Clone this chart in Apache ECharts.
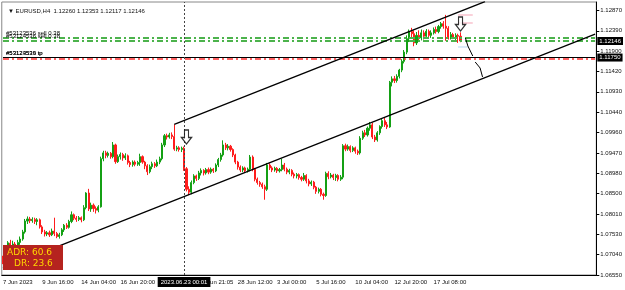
<!DOCTYPE html>
<html><head><meta charset="utf-8">
<script src="https://cdn.jsdelivr.net/npm/echarts@6/dist/echarts.min.js"></script>
<style>html,body{margin:0;padding:0;background:#fff}#c{width:625px;height:290px}</style>
</head><body><div id="c"></div>
<script>
const symbolName = 'EURUSD,H4';
// [open, close, low, high] per H4 candle
const candles = [
[1.0693,1.0686,1.0681,1.0701],[1.0686,1.0691,1.0676,1.0697],[1.0688,1.0732,1.0671,1.0736],[1.0731,1.0724,1.0717,1.0739],
[1.0724,1.0729,1.0719,1.0737],[1.0729,1.0725,1.0717,1.0734],[1.0725,1.0733,1.0721,1.0739],[1.0733,1.0741,1.0727,1.0747],
[1.0741,1.0758,1.0737,1.0763],[1.0758,1.0784,1.0754,1.0789],[1.0784,1.0789,1.0777,1.0795],[1.0789,1.0785,1.0779,1.0794],
[1.0785,1.0788,1.0780,1.0793],[1.0788,1.0783,1.0777,1.0792],[1.0783,1.0787,1.0774,1.0791],[1.0787,1.0770,1.0766,1.0790],
[1.0770,1.0758,1.0753,1.0774],[1.0758,1.0753,1.0747,1.0763],[1.0753,1.0756,1.0748,1.0760],[1.0756,1.0751,1.0746,1.0761],
[1.0751,1.0760,1.0748,1.0766],[1.0760,1.0754,1.0748,1.0792],[1.0754,1.0747,1.0743,1.0758],[1.0747,1.0751,1.0742,1.0756],
[1.0751,1.0763,1.0748,1.0767],[1.0763,1.0774,1.0758,1.0777],[1.0774,1.0769,1.0765,1.0779],[1.0769,1.0783,1.0766,1.0787],
[1.0783,1.0799,1.0779,1.0807],[1.0799,1.0791,1.0786,1.0802],[1.0791,1.0788,1.0782,1.0796],[1.0788,1.0792,1.0784,1.0796],
[1.0792,1.0787,1.0781,1.0795],[1.0787,1.0816,1.0784,1.0822],[1.0816,1.0851,1.0812,1.0853],[1.0851,1.0813,1.0808,1.0861],
[1.0813,1.0822,1.0806,1.0828],[1.0822,1.0814,1.0806,1.0826],[1.0814,1.0810,1.0802,1.0819],[1.0810,1.0818,1.0805,1.0822],
[1.0818,1.0933,1.0816,1.0938],[1.0933,1.0947,1.0927,1.0952],[1.0947,1.0941,1.0934,1.0952],[1.0941,1.0946,1.0936,1.0950],
[1.0946,1.0938,1.0933,1.0949],[1.0938,1.0966,1.0934,1.0973],[1.0966,1.0926,1.0921,1.0969],[1.0926,1.0938,1.0923,1.0943],
[1.0938,1.0943,1.0931,1.0948],[1.0943,1.0935,1.0928,1.0947],[1.0935,1.0940,1.0930,1.0946],[1.0940,1.0924,1.0919,1.0943],
[1.0924,1.0919,1.0913,1.0928],[1.0919,1.0925,1.0914,1.0929],[1.0925,1.0920,1.0915,1.0929],[1.0920,1.0924,1.0916,1.0928],
[1.0924,1.0938,1.0916,1.0945],[1.0938,1.0925,1.0921,1.0941],[1.0925,1.0916,1.0908,1.0928],[1.0916,1.0902,1.0894,1.0920],
[1.0902,1.0914,1.0898,1.0919],[1.0914,1.0921,1.0908,1.0926],[1.0921,1.0916,1.0911,1.0925],[1.0916,1.0925,1.0913,1.0931],
[1.0925,1.0933,1.0920,1.0938],[1.0933,1.0966,1.0929,1.0971],[1.0966,1.0988,1.0961,1.0992],[1.0988,1.0985,1.0979,1.0993],
[1.0985,1.0990,1.0981,1.0995],[1.0990,1.0986,1.0980,1.0996],[1.0986,1.0956,1.0952,1.1015],[1.0956,1.0959,1.0951,1.0964],
[1.0959,1.0955,1.0950,1.0963],[1.0955,1.0958,1.0949,1.0962],[1.0958,1.0909,1.0904,1.0962],[1.0909,1.0860,1.0855,1.0913],
[1.0860,1.0853,1.0846,1.0867],[1.0853,1.0876,1.0848,1.0881],[1.0876,1.0892,1.0872,1.0896],[1.0892,1.0886,1.0880,1.0895],
[1.0886,1.0899,1.0882,1.0904],[1.0899,1.0905,1.0893,1.0910],[1.0905,1.0899,1.0893,1.0908],[1.0899,1.0907,1.0895,1.0911],
[1.0907,1.0901,1.0896,1.0912],[1.0901,1.0908,1.0897,1.0912],[1.0908,1.0904,1.0899,1.0911],[1.0904,1.0918,1.0901,1.0922],
[1.0918,1.0931,1.0913,1.0935],[1.0931,1.0942,1.0926,1.0947],[1.0942,1.0966,1.0938,1.0977],[1.0966,1.0959,1.0954,1.0971],
[1.0959,1.0963,1.0953,1.0968],[1.0963,1.0955,1.0950,1.0966],[1.0955,1.0942,1.0937,1.0958],[1.0942,1.0925,1.0920,1.0945],
[1.0925,1.0913,1.0907,1.0928],[1.0913,1.0906,1.0901,1.0917],[1.0906,1.0911,1.0901,1.0915],[1.0911,1.0904,1.0899,1.0914],
[1.0904,1.0908,1.0900,1.0912],[1.0908,1.0937,1.0903,1.0942],[1.0937,1.0908,1.0903,1.0941],[1.0908,1.0884,1.0879,1.0911],
[1.0884,1.0876,1.0871,1.0888],[1.0876,1.0872,1.0866,1.0880],[1.0872,1.0866,1.0861,1.0876],[1.0866,1.0860,1.0835,1.0871],
[1.0860,1.0918,1.0856,1.0923],[1.0918,1.0911,1.0906,1.0922],[1.0911,1.0906,1.0901,1.0915],[1.0906,1.0910,1.0902,1.0914],
[1.0910,1.0904,1.0899,1.0913],[1.0904,1.0907,1.0900,1.0911],[1.0907,1.0918,1.0903,1.0933],[1.0918,1.0908,1.0903,1.0923],
[1.0908,1.0901,1.0896,1.0912],[1.0901,1.0905,1.0896,1.0909],[1.0905,1.0896,1.0891,1.0908],[1.0896,1.0892,1.0886,1.0900],
[1.0892,1.0895,1.0886,1.0899],[1.0895,1.0888,1.0883,1.0898],[1.0888,1.0884,1.0879,1.0892],[1.0884,1.0893,1.0880,1.0899],
[1.0893,1.0880,1.0874,1.0896],[1.0880,1.0873,1.0867,1.0885],[1.0873,1.0877,1.0868,1.0881],[1.0877,1.0865,1.0860,1.0880],
[1.0865,1.0855,1.0849,1.0868],[1.0855,1.0860,1.0850,1.0864],[1.0860,1.0848,1.0843,1.0863],[1.0848,1.0845,1.0835,1.0852],
[1.0845,1.0898,1.0842,1.0902],[1.0898,1.0890,1.0884,1.0903],[1.0890,1.0894,1.0886,1.0899],[1.0894,1.0888,1.0882,1.0897],
[1.0888,1.0893,1.0880,1.0897],[1.0893,1.0884,1.0879,1.0896],[1.0884,1.0889,1.0880,1.0894],[1.0889,1.0964,1.0884,1.0968],
[1.0964,1.0956,1.0951,1.0969],[1.0956,1.0962,1.0952,1.0967],[1.0962,1.0953,1.0948,1.0965],[1.0953,1.0959,1.0949,1.0963],
[1.0959,1.0951,1.0945,1.0962],[1.0951,1.0947,1.0942,1.0955],[1.0947,1.0982,1.0943,1.0987],[1.0982,1.0995,1.0978,1.1000],
[1.0995,1.0990,1.0985,1.1002],[1.0990,1.1006,1.0986,1.1010],[1.1006,1.1014,1.1000,1.1021],[1.1014,1.0985,1.0980,1.1019],
[1.0985,1.0978,1.0973,1.0990],[1.0978,1.0995,1.0974,1.0999],[1.0995,1.1010,1.0990,1.1013],[1.1010,1.1024,1.1005,1.1029],
[1.1024,1.1014,1.1009,1.1031],[1.1014,1.1009,1.1004,1.1021],[1.1009,1.1116,1.1007,1.1119],[1.1116,1.1124,1.1106,1.1130],
[1.1124,1.1120,1.1114,1.1131],[1.1120,1.1130,1.1115,1.1135],[1.1130,1.1145,1.1125,1.1148],[1.1145,1.1166,1.1140,1.1171],
[1.1166,1.1188,1.1161,1.1193],[1.1188,1.1220,1.1183,1.1228],[1.1220,1.1237,1.1212,1.1242],[1.1237,1.1232,1.1224,1.1246],
[1.1232,1.1210,1.1202,1.1240],[1.1210,1.1228,1.1205,1.1236],[1.1228,1.1222,1.1214,1.1240],[1.1222,1.1234,1.1216,1.1242],
[1.1234,1.1226,1.1218,1.1240],[1.1226,1.1238,1.1220,1.1243],[1.1238,1.1228,1.1222,1.1242],[1.1228,1.1234,1.1222,1.1240],
[1.1234,1.1242,1.1230,1.1247],[1.1242,1.1237,1.1232,1.1249],[1.1237,1.1249,1.1233,1.1253],[1.1249,1.1256,1.1244,1.1260],
[1.1256,1.1250,1.1244,1.1262],[1.1250,1.1245,1.1215,1.1277],[1.1245,1.1222,1.1218,1.1250],[1.1222,1.1230,1.1218,1.1236],
[1.1230,1.1224,1.1219,1.1234],[1.1224,1.1228,1.1216,1.1233],[1.1228,1.1226,1.1210,1.1232],[1.12260,1.12146,1.12117,1.12353]
];
const tickLabels = ['7 Jun 2023','9 Jun 16:00','14 Jun 04:00','16 Jun 20:00','21 Jun 08:00','25 Jun 21:05','28 Jun 12:00','3 Jul 00:00','5 Jul 16:00','10 Jul 04:00','12 Jul 20:00','17 Jul 08:00'];
const tickStep = 16;
const totalSlots = 243;
const priceTicks = [1.06550,1.07040,1.07530,1.08010,1.08500,1.08980,1.09470,1.09960,1.10440,1.10930,1.11420,1.11900,1.12390,1.12870];
const yMin = 1.06550, yMax = 1.13078;
const bidPrice = 1.12146;
const tpLevel = 1.11750;
const tpRedLevel = 1.1172;
const sellLevels = [1.1223, 1.1215];
const sellTexts = ['#53123536 sell 0.38', '#53124536 sell 0.38'];
const tpTexts = ['#53124539 tp', '#53123536 tp'];
const lowerChannel = [[0, 1.06715], [242, 1.12310]];
const upperChannel = [[70, 1.10151], [197, 1.13088]];
const signalArrows = [[75, 1.0985], [187, 1.12552]];
const pathArrow1 = [[189, 1.12217], [190, 1.12026], [192, 1.11787]];
const pathArrow2 = [[193, 1.11643], [195, 1.11500], [196, 1.11285]];
const pinkLevels = [[186, 192, 1.12767], [186, 192, 1.12576]];
const blueLevel = [186, 190, 1.12002];
const crossIndex = 74;
const crossLabel = '2023.06.23 00:01';
const adrValue = 60.6, drValue = 23.6;

const categories = Array.from({length: totalSlots}, (_, i) => String(i));
const last = candles[candles.length - 1];
const f5 = v => v.toFixed(5);
const showTick = idx => idx % tickStep === 0 && idx / tickStep < tickLabels.length;
const FONT = 'Liberation Sans';
const txt = (s, pos, dist) => ({show: true, position: pos, formatter: s, fontSize: 6, color: '#000', fontFamily: FONT, distance: dist});
const box = (s) => ({show: true, position: 'end', formatter: s, fontSize: 6, color: '#fff', backgroundColor: '#000', padding: [1, 2], fontFamily: FONT, distance: 1});

const chart = echarts.init(document.getElementById('c'), null, {renderer: 'canvas'});
chart.setOption({
  animation: false,
  backgroundColor: '#ffffff',
  title: {
    text: '\u25BC ' + symbolName + '  ' + [last[0], last[3], last[2], last[1]].map(f5).join(' '),
    left: 3, top: 3,
    textStyle: {fontSize: 6, fontWeight: 'normal', color: '#111', fontFamily: FONT}
  },
  grid: {left: 1, right: 26, top: 2, bottom: 15, show: true, borderColor: '#888', borderWidth: 1},
  xAxis: {
    type: 'category', data: categories, boundaryGap: true,
    axisLine: {lineStyle: {color: '#000', width: 1}},
    axisTick: {interval: showTick, alignWithLabel: true, length: 3, lineStyle: {color: '#000'}},
    axisLabel: {interval: showTick, formatter: (v, i) => tickLabels[i / tickStep] || '', align: 'left',
      fontSize: 6, color: '#111', fontFamily: FONT, margin: 4},
    splitLine: {show: false}
  },
  yAxis: {
    type: 'value', position: 'right', min: yMin, max: yMax, scale: true,
    axisLine: {show: true, lineStyle: {color: '#000', width: 1}},
    axisTick: {show: true, customValues: priceTicks, length: 3, lineStyle: {color: '#000'}},
    axisLabel: {customValues: priceTicks, formatter: v => f5(v), fontSize: 6, color: '#111', fontFamily: FONT, margin: 4},
    splitLine: {show: false}
  },
  graphic: [
    {type: 'rect', left: 3, top: 245, shape: {width: 60, height: 25}, style: {fill: '#b5231f'}, z: 100},
    {type: 'text', left: 7, top: 248, style: {text: 'ADR: ' + adrValue.toFixed(1), fill: '#ffd800', font: '9px "DejaVu Sans"'}, z: 101},
    {type: 'text', left: 14, top: 259, style: {text: 'DR: ' + drValue.toFixed(1), fill: '#ffd800', font: '9px "DejaVu Sans"'}, z: 101}
  ],
  series: [
    {
      type: 'candlestick', data: candles, barWidth: 1.6, barMinWidth: 1,
      itemStyle: {color: '#14a014', color0: '#ff1c1c', borderColor: '#14a014', borderColor0: '#ff1c1c', borderWidth: 1}
    },
    {
      type: 'line', data: [], symbol: 'none', silent: true,
      markLine: {
        silent: true, symbol: ['none', 'none'], animation: false, precision: 5,
        data: [
          [{coord: [0, sellLevels[0]], lineStyle: {color: '#4cb34c', width: 2, type: [6, 3, 2, 3]}, label: txt(sellTexts[0], 'insideStartTop', [3, 1])}, {coord: [totalSlots - 1, sellLevels[0]]}],
          [{coord: [0, sellLevels[1]], lineStyle: {color: '#4cb34c', width: 2, type: [6, 3, 2, 3]}, label: txt(sellTexts[1], 'insideStartTop', [3, 1])}, {coord: [totalSlots - 1, sellLevels[1]]}],
          [{coord: [0, tpLevel], lineStyle: {color: '#000', width: 1, type: 'solid'}, label: txt(tpTexts[0], 'insideStartTop', [3, 1])}, {coord: [totalSlots - 1, tpLevel]}],
          [{coord: [0, tpRedLevel], lineStyle: {color: '#ff3030', width: 1.5, type: [6, 3, 2, 3]}, label: txt(tpTexts[1], 'insideStartTop', [3, 2])}, {coord: [totalSlots - 1, tpRedLevel]}],
          {yAxis: tpLevel, lineStyle: {color: 'rgba(0,0,0,0)', width: 0}, label: box(f5(tpLevel))},
          {yAxis: bidPrice, lineStyle: {color: 'rgba(0,0,0,0)', width: 0}, label: box(f5(bidPrice))},
          {xAxis: crossIndex, lineStyle: {color: '#444', width: 1, type: [2, 2]},
            label: {show: true, position: 'start', formatter: crossLabel, fontSize: 6, color: '#fff', backgroundColor: '#000', padding: [2, 3], fontFamily: FONT, distance: 2}}
        ]
      }
    },
    {type: 'line', data: lowerChannel, symbol: 'none', lineStyle: {color: '#000', width: 1.3}, z: 5, silent: true},
    {type: 'line', data: upperChannel, symbol: 'none', lineStyle: {color: '#000', width: 1.3}, z: 5, silent: true},
    ...pinkLevels.map(p => ({type: 'line', data: [[p[0], p[2]], [p[1], p[2]]], symbol: 'none', lineStyle: {color: '#f5a3b5', width: 1}, silent: true})),
    {type: 'line', data: [[blueLevel[0], blueLevel[2]], [blueLevel[1], blueLevel[2]]], symbol: 'none', lineStyle: {color: '#b5d5f0', width: 1}, silent: true},
    {type: 'scatter', data: signalArrows, symbol: 'path://M3,0 L7,0 L7,7 L10,7 L5,13 L0,7 L3,7 Z', symbolSize: [10, 14],
      itemStyle: {color: '#fff', borderColor: '#000', borderWidth: 1.3}, z: 10, silent: true},
    {type: 'lines', coordinateSystem: 'cartesian2d', polyline: true, symbol: ['none', 'arrow'], symbolSize: 6,
      lineStyle: {color: '#000', width: 1, opacity: 1},
      data: [{coords: pathArrow1}, {coords: pathArrow2}], z: 10, silent: true}
  ]
});
</script></body></html>
